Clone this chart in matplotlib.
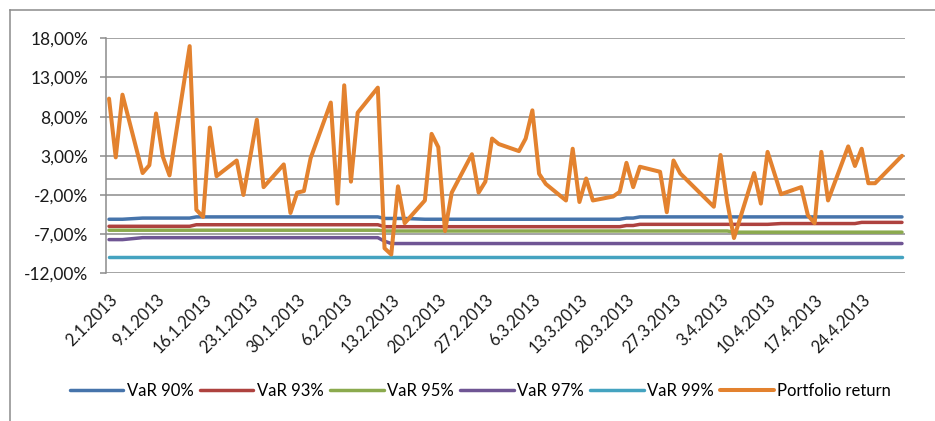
import matplotlib
matplotlib.use("Agg")
import matplotlib.pyplot as plt
import matplotlib.dates as mdates
from matplotlib.lines import Line2D
from matplotlib.ticker import FuncFormatter
import numpy as np
import datetime as dt

# trading days (day, month), year 2013
days_jan = [2, 3, 4, 7, 8, 9, 10, 11, 14, 15, 16, 17, 18, 21, 22, 24, 25, 28, 29, 30, 31]
days_feb = [1, 4, 5, 6, 7, 8, 11, 12, 13, 14, 15, 18, 19, 20, 21, 22, 25, 26, 27, 28]
days_mar = [1, 4, 5, 6, 7, 8, 11, 12, 13, 14, 15, 18, 19, 20, 21, 22, 25, 26, 27, 28]
days_apr = [2, 3, 4, 5, 8, 9, 10, 12, 15, 16, 17, 18, 19, 22, 23, 24, 25, 26, 30]

dates = ([dt.date(2013, 1, d) for d in days_jan] + [dt.date(2013, 2, d) for d in days_feb]
         + [dt.date(2013, 3, d) for d in days_mar] + [dt.date(2013, 4, d) for d in days_apr])

# values in percent
portfolio = [10.3, 2.8, 10.8, 0.8, 1.8, 8.4, 2.9, 0.5, 17.0, -3.9, -4.8, 6.6, 0.4, 2.4, -2.0, 7.6, -1.0, 1.9, -4.3, -1.7, -1.5,
             2.7, 9.8, -3.1, 12.0, -0.3, 8.5, 11.7, -8.8, -9.6, -0.9, -5.6, -2.7, 5.8, 4.1, -6.6, -1.7, 3.2, -1.7, -0.3, 5.2,
             4.5, 3.6, 5.2, 8.8, 0.7, -0.6, -2.7, 3.9, -2.9, 0.1, -2.7, -2.2, -1.6, 2.1, -1.0, 1.6, 0.96, -4.2, 2.4, 0.75,
             -3.5, 3.1, -2.9, -7.5, 0.8, -3.1, 3.5, -1.9, -1.0, -4.6, -5.6, 3.5, -2.7, 4.2, 1.7, 3.9, -0.5, -0.5, 3.0]

var90 = ([-5.1] * 3 + [-4.95] * 6 + [-4.8] * 12
         + [-4.8] * 7 + [-5.0] * 4 + [-5.1] * 9
         + [-5.1] * 13 + [-4.95] * 2 + [-4.8] * 5
         + [-4.8] * 19)
var93 = ([-6.0] * 9 + [-5.8] * 12
         + [-5.8] * 7 + [-6.05] * 13
         + [-6.05] * 13 + [-5.9] * 2 + [-5.75] * 5
         + [-5.75] * 7 + [-5.65] * 8 + [-5.5] * 4)
var95 = ([-6.5] * 21
         + [-6.5] * 7 + [-6.6] * 13
         + [-6.6] * 20
         + [-6.6] * 3 + [-6.75] * 16)
var97 = ([-7.7] * 3 + [-7.45] * 18
         + [-7.45] * 7 + [-7.9] + [-8.2] * 12
         + [-8.2] * 20
         + [-8.2] * 19)
var99 = [-9.95] * 80

series = [var90, var93, var95, var97, var99, portfolio]
names = ["VaR 90%", "VaR 93%", "VaR 95%", "VaR 97%", "VaR 99%", "Portfolio return"]
colors = ['#4674AB', '#AE423F', '#8BAA4E', '#6F5594', '#44A3C0', '#E3822F']
widths = [2.5, 2.5, 2.5, 2.5, 2.5, 2.9]

yticks = [-12, -7, -2, 3, 8, 13, 18]
first_tick = dt.date(2013, 1, 2)
xticks = [first_tick + dt.timedelta(days=7 * i) for i in range(17)]

grid_color = '#8C8C8C'
font = 'Lato'
plt.rcParams['font.family'] = [font, 'DejaVu Sans']

W, H = 935, 421
fig = plt.figure(figsize=(W / 100, H / 100), dpi=100)
left, right, top, bottom = 106, 905, 38.3, 273.3
ax = fig.add_axes([left / W, 1 - bottom / H, (right - left) / W, (bottom - top) / H])

x = mdates.date2num(dates)
for i, s in enumerate(series):
    ax.plot(x, s, color=colors[i], linewidth=widths[i], label=names[i],
            solid_joinstyle='round', solid_capstyle='round', zorder=3 + i)

ax.set_ylim(-12, 18)
ax.set_yticks(yticks)
ax.yaxis.set_major_formatter(FuncFormatter(lambda v, p: ("%.2f" % v).replace('.', ',') + "%"))
ax.set_xlim(mdates.date2num(dates[0]) - 0.45, mdates.date2num(dates[-1]) + 0.45)
ax.set_xticks(mdates.date2num(xticks))
ax.set_xticklabels(["%d.%d.%d" % (d.day, d.month, d.year) for d in xticks])

ax.grid(axis='y', color=grid_color, linewidth=1.1, zorder=1)
ax.axhline(0, color=grid_color, linewidth=1.1, zorder=1)
for side in ['top', 'right', 'bottom']:
    ax.spines[side].set_visible(False)
ax.spines['left'].set_color(grid_color)
ax.spines['left'].set_linewidth(1.1)
ax.tick_params(axis='y', length=4.3, width=1.1, color=grid_color, pad=8.5, labelsize=12.5, labelcolor='#1A1A1A')
ax.tick_params(axis='x', length=0, pad=13, labelsize=12, labelcolor='#1A1A1A')
for lab in ax.get_xticklabels():
    lab.set_rotation(45)
    lab.set_ha('right')
    lab.set_va('top')
    lab.set_rotation_mode('anchor')

# outer chart border (cut at the right and bottom in the original)
fig.add_artist(Line2D([10 / W, 10 / W], [0, 1 - 9.5 / H], color=grid_color, linewidth=1.1))
fig.add_artist(Line2D([10 / W, 1], [1 - 9.5 / H, 1 - 9.5 / H], color=grid_color, linewidth=1.1))

fig.legend(loc='center', bbox_to_anchor=(480.5 / W, 1 - 391 / H), ncol=6, frameon=False,
           fontsize=12, handlelength=3.2, handletextpad=0.2, columnspacing=0.4, borderaxespad=0)

fig.savefig("out.png", dpi=100)
